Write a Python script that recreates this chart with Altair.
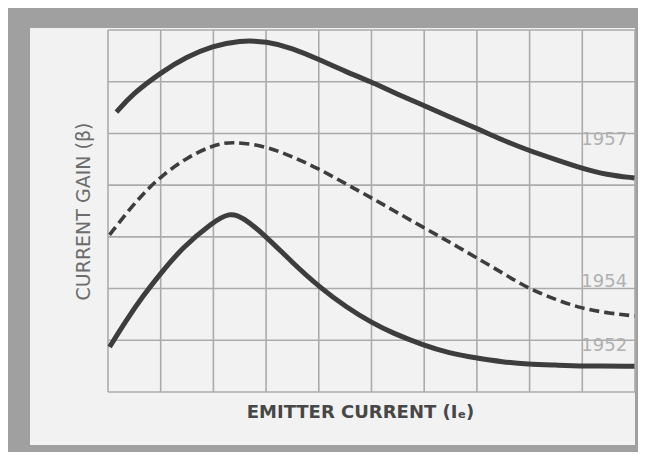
import altair as alt
import pandas as pd

# ---- data (x: emitter current in grid units, y: current gain in grid units)
x_1957 = [0.16, 0.46, 1.02, 1.49, 1.98, 2.50, 3.01, 3.50, 3.98, 4.52, 4.99, 5.40, 5.97, 6.48, 6.97, 7.49, 7.96, 8.51, 8.98, 9.46, 9.99]
y_1957 = [5.41, 5.76, 6.19, 6.48, 6.69, 6.80, 6.78, 6.65, 6.44, 6.19, 6.00, 5.80, 5.55, 5.32, 5.11, 4.87, 4.68, 4.49, 4.33, 4.20, 4.14]
x_1954 = [0.03, 0.46, 0.75, 1.02, 1.49, 1.98, 2.36, 3.01, 3.50, 3.98, 4.52, 4.99, 5.40, 5.97, 6.48, 6.97, 7.49, 7.96, 8.51, 8.98, 9.46, 9.99]
y_1954 = [3.04, 3.60, 3.92, 4.18, 4.53, 4.77, 4.85, 4.75, 4.55, 4.33, 4.02, 3.76, 3.52, 3.19, 2.90, 2.61, 2.30, 2.01, 1.78, 1.62, 1.53, 1.47]
x_1952 = [0.03, 0.35, 0.65, 1.02, 1.41, 1.98, 2.31, 2.55, 3.01, 3.50, 4.01, 4.52, 5.02, 5.40, 5.97, 6.48, 6.97, 7.49, 7.96, 8.51, 8.98, 9.99]
y_1952 = [0.87, 1.39, 1.84, 2.32, 2.79, 3.28, 3.47, 3.39, 3.00, 2.50, 2.03, 1.64, 1.33, 1.14, 0.91, 0.75, 0.66, 0.58, 0.54, 0.52, 0.50, 0.50]

label_text = ["1957", "1954", "1952"]
label_x = [9.85, 9.85, 9.85]
label_y = [4.87, 2.13, 0.89]

x_grid = [0, 1, 2, 3, 4, 5, 6, 7, 8, 9, 10]
y_grid = [0, 1, 2, 3, 4, 5, 6, 7]

# ---- tables
solid = pd.concat([
    pd.DataFrame({"x": x_1957, "y": y_1957, "year": "1957"}),
    pd.DataFrame({"x": x_1952, "y": y_1952, "year": "1952"}),
])
dashed = pd.DataFrame({"x": x_1954, "y": y_1954, "year": "1954"})
labels = pd.DataFrame({"x": label_x, "y": label_y, "t": label_text})
vgrid = pd.DataFrame({"x": x_grid})
hgrid = pd.DataFrame({"y": y_grid})

BORDER = "#a0a0a0"
PANEL = "#f2f2f2"
GRID = "#ababab"
INK = "#3d3d3d"

xscale = alt.Scale(domain=[0, 10], nice=False, zero=False)
yscale = alt.Scale(domain=[0, 7], nice=False, zero=False)
xaxis = alt.Axis(labels=False, ticks=False, domain=False, grid=False,
                 title="EMITTER CURRENT (Iₑ)", titleFont="DejaVu Sans",
                 titleFontSize=18, titleFontWeight="bold", titleColor="#474747",
                 titlePadding=11, titleX=252, titleAlign="center", zindex=1)
yaxis = alt.Axis(labels=False, ticks=False, domain=False, grid=False,
                 title="CURRENT GAIN (β)", titleFont="DejaVu Sans",
                 titleFontSize=19, titleFontWeight="normal", titleColor="#6c6c6c",
                 titlePadding=15, zindex=1)

panel = alt.Chart(pd.DataFrame({"a": [0]})).mark_rect(color=PANEL).encode(
    x=alt.value(-78), x2=alt.value(527), y=alt.value(-2), y2=alt.value(415)
)

vlines = alt.Chart(vgrid).mark_rule(color=GRID, strokeWidth=1.6).encode(
    x=alt.X("x:Q", scale=xscale, axis=xaxis)
)
hlines = alt.Chart(hgrid).mark_rule(color=GRID, strokeWidth=1.6).encode(
    y=alt.Y("y:Q", scale=yscale, axis=yaxis)
)

solid_lines = alt.Chart(solid).mark_line(
    color=INK, strokeWidth=5, interpolate="basis", strokeCap="butt"
).encode(
    x=alt.X("x:Q", scale=xscale, axis=xaxis),
    y=alt.Y("y:Q", scale=yscale, axis=yaxis),
    detail="year:N",
)

dashed_line = alt.Chart(dashed).mark_line(
    color=INK, strokeWidth=3.6, interpolate="basis", strokeDash=[10, 5]
).encode(
    x=alt.X("x:Q", scale=xscale, axis=xaxis),
    y=alt.Y("y:Q", scale=yscale, axis=yaxis),
)

texts = alt.Chart(labels).mark_text(
    align="right", baseline="middle", font="DejaVu Sans", fontSize=18, color="#b0b0b0"
).encode(
    x=alt.X("x:Q", scale=xscale, axis=xaxis),
    y=alt.Y("y:Q", scale=yscale, axis=yaxis),
    text="t:N",
)

chart = alt.layer(panel, vlines, hlines, solid_lines, dashed_line, texts).properties(
    width=527,
    height=362,
    padding={"left": 100, "top": 22, "right": 3, "bottom": 60},
    autosize=alt.AutoSizeParams(type="none"),
    background=BORDER,
).configure_view(stroke=None)

chart.save("out.html", embed_options={"renderer": "svg", "actions": False})
